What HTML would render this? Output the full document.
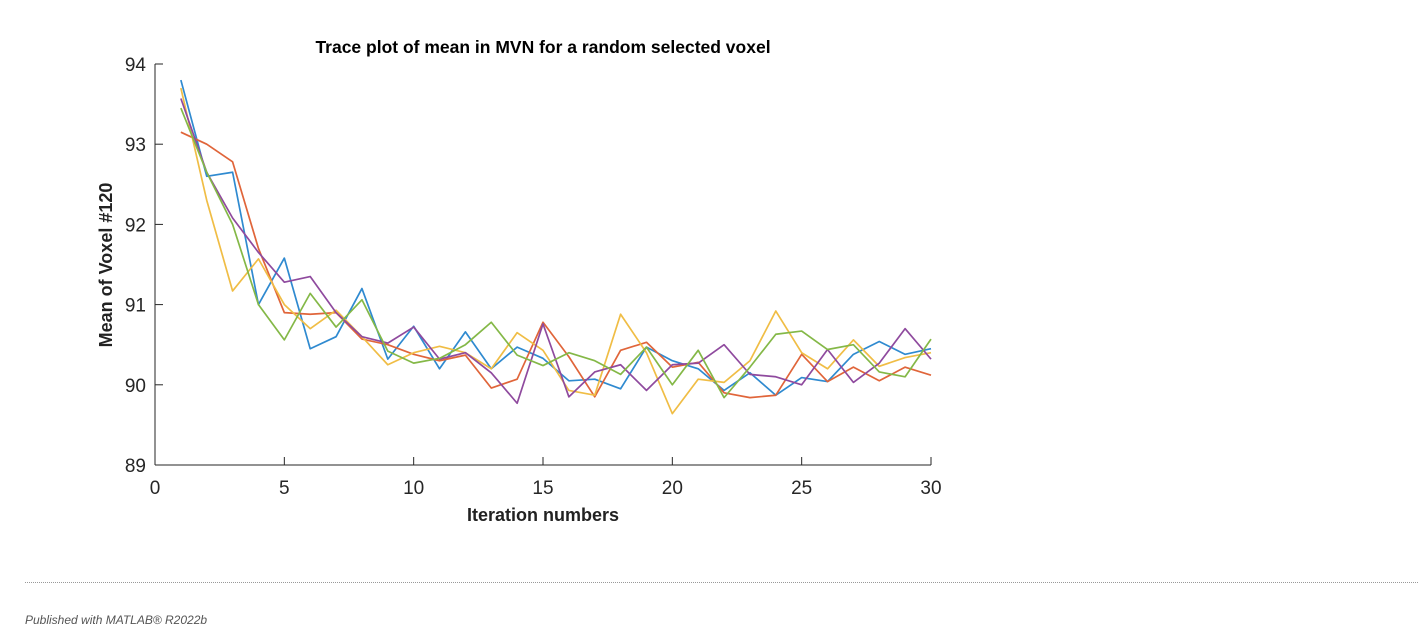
<!DOCTYPE html>
<html><head><meta charset="utf-8"><style>
body{margin:0;width:1420px;height:635px;background:#fff;font-family:"Liberation Sans",sans-serif;overflow:hidden;position:relative}
#sep{position:absolute;left:25px;top:582px;width:1393px;border-top:1px dotted #999}
#foot{position:absolute;left:25px;top:613px;font-size:12px;font-style:italic;color:#555}
</style></head><body>
<svg id="chart" width="1420" height="580" style="position:absolute;left:0;top:0">
<text x="543" y="53" text-anchor="middle" font-size="17.5" font-weight="bold" fill="#000">Trace plot of mean in MVN for a random selected voxel</text>
<g id="axes"></g><g id="lines"></g>
<text x="543" y="521" text-anchor="middle" font-size="18" font-weight="bold" fill="#222">Iteration numbers</text>
<text transform="translate(112,265) rotate(-90)" text-anchor="middle" font-size="18" font-weight="bold" fill="#222">Mean of Voxel #120</text>
</svg>
<div id="sep"></div>
<div id="foot">Published with MATLAB® R2022b</div>
<script>
const xTicks=[0,5,10,15,20,25,30];
const yTicks=[89,90,91,92,93,94];
const blue=[93.8,92.6,92.65,91.0,91.58,90.45,90.6,91.2,90.32,90.73,90.2,90.66,90.2,90.47,90.33,90.05,90.07,89.95,90.47,90.3,90.2,89.93,90.15,89.87,90.09,90.04,90.38,90.54,90.38,90.45];
const red=[93.15,93.0,92.78,91.7,90.9,90.88,90.9,90.57,90.5,90.38,90.3,90.37,89.96,90.07,90.78,90.35,89.85,90.43,90.53,90.22,90.28,89.9,89.84,89.87,90.38,90.04,90.22,90.05,90.22,90.12];
const yellow=[93.7,92.3,91.17,91.57,91.0,90.7,90.93,90.6,90.25,90.4,90.48,90.4,90.2,90.65,90.43,89.93,89.87,90.88,90.4,89.64,90.07,90.03,90.3,90.92,90.4,90.2,90.56,90.23,90.34,90.4];
const green=[93.45,92.65,92.0,91.0,90.56,91.14,90.72,91.06,90.42,90.27,90.33,90.5,90.78,90.37,90.24,90.4,90.3,90.13,90.47,90.0,90.43,89.84,90.22,90.63,90.67,90.44,90.5,90.16,90.1,90.57];
const purple=[93.57,92.65,92.08,91.65,91.28,91.35,90.9,90.6,90.52,90.72,90.32,90.4,90.15,89.77,90.76,89.85,90.16,90.25,89.93,90.25,90.27,90.5,90.13,90.1,90.0,90.44,90.03,90.27,90.7,90.32];
const NS='http://www.w3.org/2000/svg';
const X0=155,X1=931,Y0=465,Y1=64;
const sx=v=>X0+(v-0)/(30-0)*(X1-X0);
const sy=v=>Y0-(v-89)/(94-89)*(Y0-Y1);
const ax=document.getElementById('axes'),lg=document.getElementById('lines');
function mk(t,a,p){const e=document.createElementNS(NS,t);for(const k in a)e.setAttribute(k,a[k]);p.appendChild(e);return e;}
const xl=mk('line',{x1:X0,y1:Y0,x2:X1,y2:Y0,stroke:'#262626','stroke-width':1},ax);


const yl=mk('line',{x1:X0,y1:Y0,x2:X0,y2:Y1,stroke:'#262626','stroke-width':1},ax);


xTicks.forEach(t=>{const x=sx(t);mk('line',{x1:x,y1:Y0,x2:x,y2:Y0-8,stroke:'#262626'},ax);
const tx=mk('text',{x:x,y:Y0+29,'text-anchor':'middle','font-size':19,fill:'#262626'},ax);tx.textContent=t;

});
yTicks.forEach(t=>{const y=sy(t);mk('line',{x1:X0,y1:y,x2:X0+8,y2:y,stroke:'#262626'},ax);
const tx=mk('text',{x:X0-9,y:y+7,'text-anchor':'end','font-size':19,fill:'#262626'},ax);tx.textContent=t;

});
const series=[[blue,'#2f8ad0','series-1'],[red,'#e0653a','series-2'],[yellow,'#f0bd45','series-3'],[purple,'#8f4a9e','series-4'],[green,'#84b847','series-5']];
series.forEach(([d,c,n])=>{const pts=d.map((v,i)=>sx(i+1)+','+sy(v)).join(' ');
const p=mk('polyline',{points:pts,fill:'none',stroke:c,'stroke-width':1.7,'stroke-linejoin':'round'},lg);

});
</script>
</body></html>
